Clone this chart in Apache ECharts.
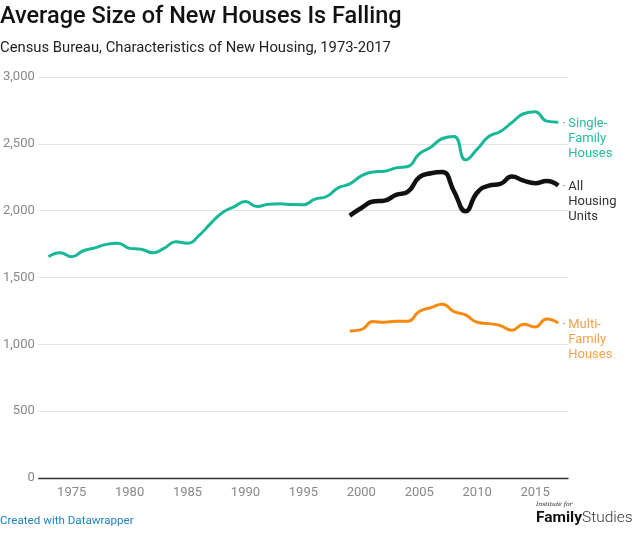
<!DOCTYPE html>
<html><head><meta charset="utf-8">
<script src="https://cdn.jsdelivr.net/npm/echarts@6/dist/echarts.min.js"></script>
<style>
html,body{margin:0;padding:0;background:#fff;}
#c{width:640px;height:533px;}
</style></head><body>
<div id="c"></div>
<script>
const singleYears = [1973,1974,1975,1976,1977,1978,1979,1980,1981,1982,1983,1984,1985,1986,1987,1988,1989,1990,1991,1992,1993,1994,1995,1996,1997,1998,1999,2000,2001,2002,2003,2004,2005,2006,2007,2008,2009,2010,2011,2012,2013,2014,2015,2016,2017];
const singleFamily = [1656,1686,1656,1700,1722,1748,1756,1718,1712,1685,1720,1768,1757,1815,1905,1985,2028,2068,2031,2048,2051,2046,2045,2086,2106,2170,2200,2260,2290,2295,2320,2330,2425,2475,2540,2555,2380,2460,2555,2592,2660,2725,2740,2670,2662];
const laterYears = [1999,2000,2001,2002,2003,2004,2005,2006,2007,2008,2009,2010,2011,2012,2013,2014,2015,2016,2017];
const allHousing = [1963,2020,2068,2075,2118,2140,2250,2280,2290,2145,1995,2135,2188,2200,2255,2225,2205,2222,2188];
const multiFamily = [1100,1110,1170,1165,1172,1172,1245,1275,1300,1245,1220,1165,1155,1140,1105,1150,1130,1190,1160];
const xTicks = [1975,1980,1985,1990,1995,2000,2005,2010,2015];
const yTicks = [0,500,1000,1500,2000,2500,3000];
const labelSingle = ['Single-','Family','Houses'];
const labelAll = ['All','Housing','Units'];
const labelMulti = ['Multi-','Family','Houses'];

const pairs = (xs, vs) => xs.map((x,i)=>[x, vs[i]]);
const FONT = 'Roboto, sans-serif';
function endLab(lines, color){
  return {
    show:true,
    distance:4,
    verticalAlign:'top',
    offset:[0,-6],
    formatter: () => lines.map((l,i)=> (i===0?'{d|·}':'{s|}') + '{t|'+l+'}').join('\n'),
    rich:{
      d:{width:6,color:'#777',fontSize:13,fontFamily:FONT,lineHeight:15},
      s:{width:6,fontSize:13,lineHeight:15},
      t:{color:color,fontSize:13,fontFamily:FONT,lineHeight:15}
    }
  };
}
const chart = echarts.init(document.getElementById('c'), null, {renderer:'canvas'});
chart.setOption({
  animation:false,
  title:[
    {text:'Average Size of New Houses Is Falling', left:-5, top:0,
     textStyle:{fontFamily:FONT,fontSize:23.5,fontWeight:500,color:'#111'}},
    {text:'Census Bureau, Characteristics of New Housing, 1973-2017', left:-5, top:36,
     textStyle:{fontFamily:FONT,fontSize:14.8,fontWeight:400,color:'#222'}},
    {text:'Created with Datawrapper', left:-5, top:510,
     textStyle:{fontFamily:FONT,fontSize:11.6,fontWeight:400,color:'#1d81c4'}}
  ],
  graphic:[
    {type:'text', left:536, top:501, style:{text:'Institute for', font:'italic 6px "DejaVu Serif", serif', fill:'#222'}},
    {type:'text', left:536, top:510, style:{text:'{b|Family}{l|Studies}', rich:{b:{fontFamily:FONT,fontSize:15.5,fontWeight:'bold',fill:'#111'},l:{fontFamily:FONT,fontSize:15.5,fontWeight:300,fill:'#333'}}}}
  ],
  grid:{left:36, right:72, top:77, bottom:55, containLabel:false},
  xAxis:{
    type:'value', min:1972.16, max:2017.84,
    axisLine:{show:true, onZero:false, lineStyle:{color:'#333', width:1.3}},
    axisTick:{show:false},
    splitLine:{show:false},
    axisLabel:{customValues:xTicks, formatter:v=>String(v), color:'#888', fontFamily:FONT, fontSize:13, margin:8}
  },
  yAxis:{
    type:'value', min:0, max:3000, interval:500,
    axisLine:{show:false}, axisTick:{show:false},
    splitLine:{lineStyle:{color:'#e2e2e2', width:1}},
    axisLabel:{customValues:yTicks, formatter:v=>v.toLocaleString('en-US'), color:'#888', fontFamily:FONT, fontSize:13, margin:4}
  },
  series:[
    {type:'line', name:'Single-Family Houses', data:pairs(singleYears,singleFamily), smooth:0.5, symbol:'none',
     lineStyle:{color:'#17b897', width:3}, endLabel:endLab(labelSingle,'#26bb9c'), z:3},
    {type:'line', name:'All Housing Units', data:pairs(laterYears,allHousing), smooth:0.5, symbol:'none',
     lineStyle:{color:'#111', width:4.5}, endLabel:endLab(labelAll,'#333'), z:4},
    {type:'line', name:'Multi-Family Houses', data:pairs(laterYears,multiFamily), smooth:0.5, symbol:'none',
     lineStyle:{color:'#f7890f', width:3}, endLabel:endLab(labelMulti,'#f7a04c'), z:3}
  ]
});
</script>
</body></html>
